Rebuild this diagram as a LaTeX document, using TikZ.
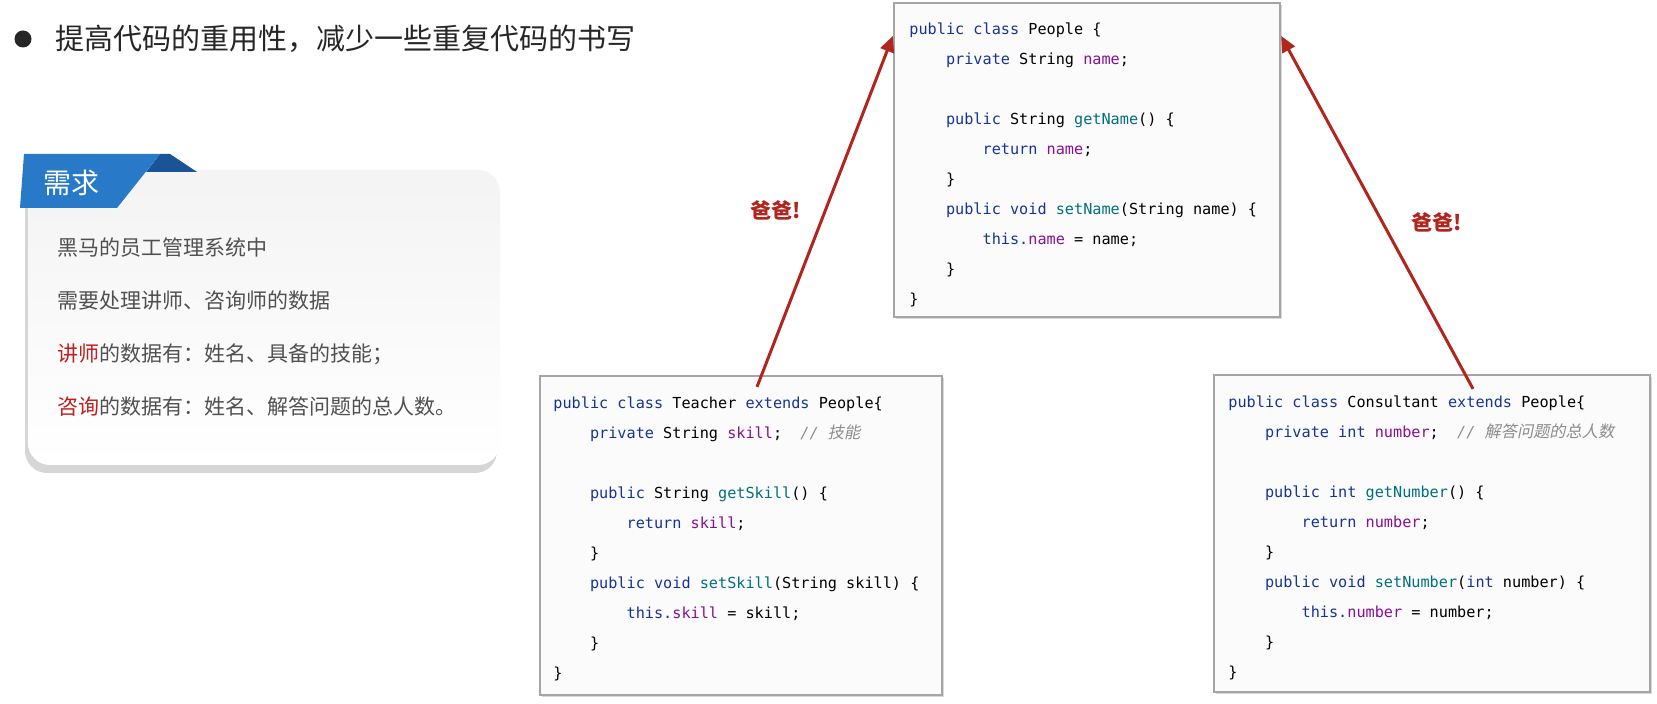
\documentclass[tikz,border=0pt]{standalone}
\usepackage{fontspec}
\usepackage{tikz}
\usetikzlibrary{arrows.meta,positioning,calc,shadows}
\newfontfamily\cjk{Noto Sans CJK SC}
\newfontfamily\cjkit[FakeSlant=0.2]{Noto Sans CJK SC}
\newfontfamily\codefont{DejaVu Sans Mono}
\definecolor{inkDark}{RGB}{38,38,38}
\definecolor{inkGray}{RGB}{80,80,80}
\definecolor{alertRed}{RGB}{190,30,30}
\definecolor{arrowRed}{RGB}{176,38,30}
\definecolor{tabBlue}{RGB}{40,122,200}
\definecolor{tabDark}{RGB}{24,84,150}
\definecolor{boxGray}{RGB}{165,165,165}
\definecolor{boxFill}{RGB}{251,251,251}
\definecolor{kwBlue}{RGB}{22,52,150}
\definecolor{fieldPurple}{RGB}{135,16,148}
\definecolor{methodTeal}{RGB}{0,112,125}
\definecolor{commentGray}{RGB}{140,140,140}
\newcommand{\kw}[1]{\textcolor{kwBlue}{#1}}
\newcommand{\fld}[1]{\textcolor{fieldPurple}{#1}}
\newcommand{\mth}[1]{\textcolor{methodTeal}{#1}}
\newcommand{\cmt}[1]{\textcolor{commentGray}{\itshape #1}}
\newcommand{\cmtcjk}[1]{\textcolor{commentGray}{\cjkit\fontsize{8.1}{15}\selectfont #1}}
\newcommand{\ind}{\hspace*{2.408em}}
\tikzset{
  bullet dot/.style={circle,fill=inkDark,inner sep=0pt,minimum size=8.5pt},
  heading/.style={inner sep=0pt,text=inkDark,font=\cjk\fontsize{14.5}{16}\selectfont},
  card/.style={rounded corners=11pt,minimum width=236pt,minimum height=147.5pt,top color=gray!9,bottom color=white,
    drop shadow={shadow xshift=-1.5pt,shadow yshift=-4pt,fill=gray!70,opacity=0.45}},
  tab label/.style={inner sep=0pt,text=white,font=\cjk\fontsize{14}{16}\selectfont},
  card text/.style={anchor=north west,align=left,inner sep=0pt,text=inkGray,font=\cjk\fontsize{10.5}{26.5}\selectfont},
  code box/.style={draw=boxGray,fill=boxFill,line width=1.1pt,inner sep=0pt,
    drop shadow={shadow xshift=1.2pt,shadow yshift=-1.2pt,opacity=0.3}},
  code text/.style={anchor=north west,align=left,inner sep=0pt,text=black,font=\codefont\fontsize{7.6}{15}\selectfont},
  parent arrow/.style={-{Triangle[length=8pt,width=7pt]},line width=1.5pt,draw=arrowRed},
  dad label/.style={inner sep=1pt,text=arrowRed,font=\cjk\bfseries\fontsize{10.5}{12}\selectfont}
}
\begin{document}
\begin{tikzpicture}[x=0.5pt,y=-0.5pt]
  \useasboundingbox[fill=white] (0,0) rectangle (1657,704);
  % heading line
  \node[bullet dot] (dot) at (23,39) {};
  \node[heading,anchor=west] (headline) at (55,39) {提高代码的重用性，减少一些重复代码的书写};
  % requirement card
  \node[card] (card) at (264,317.5) {};
  \fill[tabDark] (160,154) -- (170,154) -- (197,172) -- (146,172) -- cycle;
  \fill[tabBlue] (24,154) -- (160,154) -- (117,208) -- (20,208) -- cycle;
  \node[tab label] (need) at (71,183) {需求};
  \node[card text] (needText) at (57,237) {黑马的员工管理系统中\\
    需要处理讲师、咨询师的数据\\
    \textcolor{alertRed}{讲师}的数据有：姓名、具备的技能；\\
    \textcolor{alertRed}{咨询}的数据有：姓名、解答问题的总人数。};
  % parent class
  \node[code box,minimum width=193pt,minimum height=157pt] (people) at (1087,160) {};
  \node[code text] (peopleCode) at (909,22) {\kw{public class} People \{\\
    \ind\kw{private} String \fld{name};\\
    \mbox{}\\
    \ind\kw{public} String \mth{getName}() \{\\
    \ind\ind\kw{return} \fld{name};\\
    \ind\}\\
    \ind\kw{public void} \mth{setName}(String name) \{\\
    \ind\ind\kw{this.}\fld{name} = name;\\
    \ind\}\\
    \}};
  % child classes
  \node[code box,minimum width=201pt,minimum height=159.5pt] (teacher) at (741,535.5) {};
  \node[code text] (teacherCode) at (553,396) {\kw{public class} Teacher \kw{extends} People\{\\
    \ind\kw{private} String \fld{skill};~~\cmt{//} \cmtcjk{技能}\\
    \mbox{}\\
    \ind\kw{public} String \mth{getSkill}() \{\\
    \ind\ind\kw{return} \fld{skill};\\
    \ind\}\\
    \ind\kw{public void} \mth{setSkill}(String skill) \{\\
    \ind\ind\kw{this.}\fld{skill} = skill;\\
    \ind\}\\
    \}};
  \node[code box,minimum width=218pt,minimum height=158.5pt] (consultant) at (1432,533.5) {};
  \node[code text] (consultantCode) at (1228,395) {\kw{public class} Consultant \kw{extends} People\{\\
    \ind\kw{private int} \fld{number};~~\cmt{//} \cmtcjk{解答问题的总人数}\\
    \mbox{}\\
    \ind\kw{public int} \mth{getNumber}() \{\\
    \ind\ind\kw{return} \fld{number};\\
    \ind\}\\
    \ind\kw{public void} \mth{setNumber}(\kw{int} number) \{\\
    \ind\ind\kw{this.}\fld{number} = number;\\
    \ind\}\\
    \}};
  % inheritance arrows
  \draw[parent arrow] ([xshift=8pt,yshift=-6pt]teacher.north) -- ([yshift=-17pt]people.north west);
  \draw[parent arrow] ([xshift=20.5pt,yshift=-7.5pt]consultant.north) -- ([yshift=-17pt]people.north east);
  \node[dad label] (dadTeacher) at (776,210) {爸爸!};
  \node[dad label] (dadConsultant) at (1437,222) {爸爸!};
\end{tikzpicture}
\end{document}
